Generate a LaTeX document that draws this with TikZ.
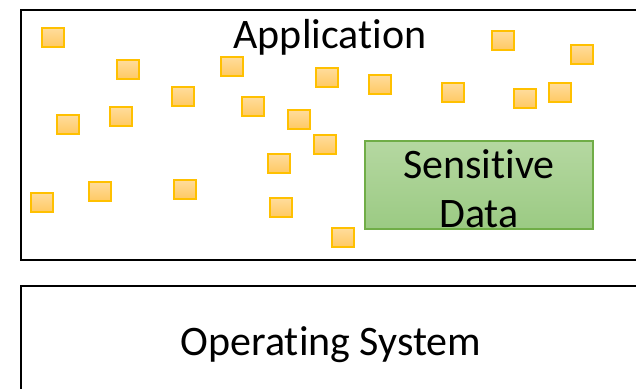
\documentclass[tikz,border=0pt]{standalone}
\usepackage{fontspec}
\setmainfont{Carlito}[Ligatures=NoCommon]
\definecolor{chunkedge}{HTML}{FFC000}
\definecolor{chunktop}{HTML}{FFDC9E}
\definecolor{chunkbot}{HTML}{FFC964}
\definecolor{secretedge}{HTML}{70AD47}
\definecolor{secrettop}{HTML}{B5D8A1}
\definecolor{secretbot}{HTML}{9BCA83}

\begin{document}
\begin{tikzpicture}[x=1pt,y=-1pt]
\tikzset{layer/.style = {draw, line width=2.5pt, inner sep=0pt}}
\tikzset{chunk/.style = {draw=chunkedge, line width=2pt, top color=chunktop, bottom color=chunkbot, minimum width=22pt, minimum height=19pt, inner sep=0pt}}
\tikzset{secret/.style = {draw=secretedge, line width=2pt, top color=secrettop, bottom color=secretbot, minimum width=228pt, minimum height=88pt, inner sep=0pt, align=center, font=\fontsize{42}{49}\selectfont}}
\tikzset{caption/.style = {anchor=base, inner sep=0pt, font=\fontsize{42}{49}\selectfont}}
\useasboundingbox (0,0) rectangle (636,388);

\node[layer, minimum width=624pt, minimum height=250pt] (app) at (333,135) {};
\node[layer, minimum width=624pt, minimum height=114pt] (os) at (333,343) {};
\node[caption] (applabel) at (330,48) {Application};
\node[caption] (oslabel) at (331,355) {Operating System};

\foreach \x/\y [count=\i] in {53/37, 128/69, 232/66, 183/96, 253/106, 299/119, 121/116, 68/124,
  279/163, 42/202, 100/191, 185/189, 281/207, 327/77, 325/144, 380/84, 453/92, 503/40,
  582/54, 525/98, 560/92, 343/237}
  \node[chunk] (c\i) at (\x,\y) {};

\node[secret] (data) at (479,185) {\rule{0pt}{36pt}Sensitive\\Data};
\end{tikzpicture}
\end{document}
